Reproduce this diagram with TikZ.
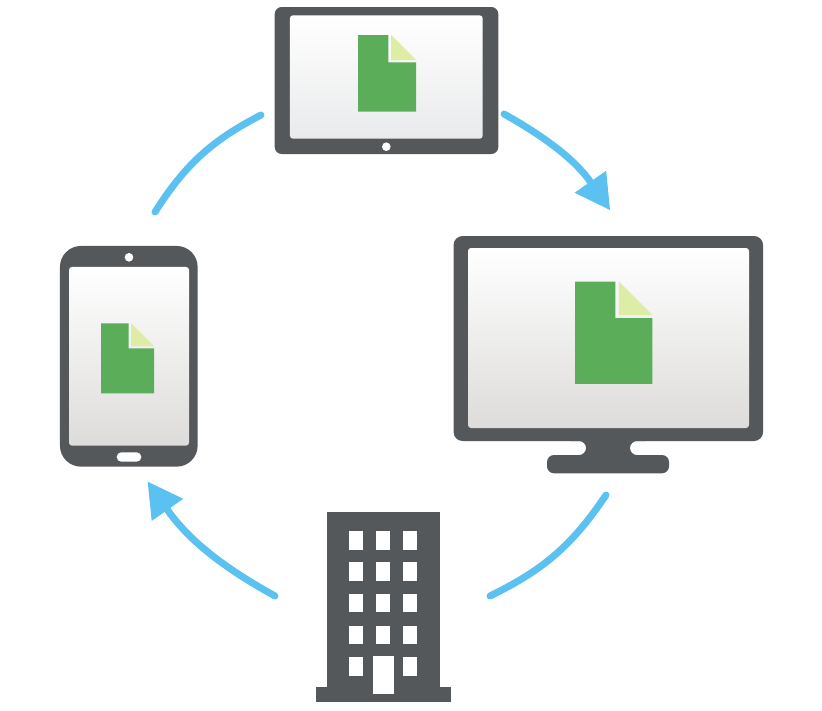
\documentclass[tikz,border=0pt]{standalone}
\usepackage{xcolor}
\usetikzlibrary{arrows.meta}

\definecolor{bezel}{HTML}{55585A}
\definecolor{flow}{HTML}{5AC1F1}
\definecolor{sheet}{HTML}{5BAD5A}
\definecolor{fold}{HTML}{DEEDA5}
\definecolor{screentablet}{HTML}{E9EAEB}
\definecolor{screenphone}{HTML}{DDDCDA}

\tikzset{
  device/.style={fill=bezel, inner sep=0pt, outer sep=0pt},
  screen/.style={inner sep=0pt, outer sep=0pt, rounded corners=3pt, top color=white},
  hole/.style={fill=white, circle, inner sep=0pt, outer sep=0pt, minimum size=8.6pt},
  sync/.style={draw=flow, line width=7pt, line cap=round},
  synctip/.style={sync, -{Triangle[length=34.4pt,width=38.5pt,line width=0pt,sharp]}},
  pane/.style={fill=white, inner sep=0pt, outer sep=0pt, minimum width=13.5pt, minimum height=18.6pt},
}

\begin{document}
\begin{tikzpicture}[x=1pt, y=-1pt]
  \useasboundingbox (0,0) rectangle (822,710);

  % tablet
  \node[device, rounded corners=7pt, minimum width=223.6pt, minimum height=147pt] (tablet) at (386.5,80.5) {};
  \node[screen, bottom color=screentablet, minimum width=192.7pt, minimum height=123.4pt] (tabletscreen) at (386.3,77) {};
  \node[hole] (tablethole) at (386.3,146.7) {};

  % phone
  \node[device, rounded corners=21pt, minimum width=137.7pt, minimum height=220.7pt] (phone) at (128.8,356.3) {};
  \node[screen, bottom color=screenphone, minimum width=120pt, minimum height=178.7pt] (phonescreen) at (129,356.3) {};
  \node[hole] (phonehole) at (129,257.3) {};
  \node[fill=white, rounded corners=4.6pt, inner sep=0pt, minimum width=24.6pt, minimum height=9.4pt] (phonebutton) at (129,457) {};

  % monitor
  \fill[bezel] [sharp corners] (570,435) -- (570,441) [rounded corners=7pt] -- (586,441) -- (586,455) -- (547,455)
       -- (547,473.3) -- (669,473.3) -- (669,455) -- (630,455) -- (630,441) [sharp corners] -- (646,441) -- (646,435) -- cycle;
  \node[device, rounded corners=9pt, minimum width=309.5pt, minimum height=205pt] (monitor) at (608.3,338.5) {};
  \node[screen, bottom color=screenphone, minimum width=281pt, minimum height=180pt] (monitorscreen) at (608.5,338) {};

  % the three sheets
  \foreach \docx/\docy/\docs in {358/35/1, 101/323.3/0.914, 575/281.7/1.333} {
    \begin{scope}[shift={(\docx,\docy)}, scale=\docs]
      \fill[sheet] (0,0) -- (30.3,0) -- (30.3,27.3) -- (58,27.3) -- (58,76.7) -- (0,76.7) -- cycle;
      \fill[fold] (33,0) -- (58,25) -- (33,25) -- cycle;
    \end{scope}
  }

  % building
  \node[device, minimum width=113.3pt, minimum height=176pt] (tower) at (383.3,599.7) {};
  \node[device, minimum width=134.7pt, minimum height=15pt] (towerbase) at (383.3,694.2) {};
  \foreach \winy in {540.3,571.7,603,634.8,666.7}
    \foreach \winx in {356,383.2,410.2}
      \node[pane] (pane\winx\winy) at (\winx,\winy) {};
  \node[device, minimum width=23pt, minimum height=24pt] (doorgap) at (383.2,666.7) {};
  \node[fill=white, inner sep=0pt, minimum width=21pt, minimum height=38pt] (door) at (383.2,675) {};

  % arrows
  \coordinate (tabletout)   at (504,114);
  \coordinate (monitorin)   at (610,210);
  \coordinate (monitorout)  at (606,495);
  \coordinate (towerin)     at (490,596);
  \coordinate (towerout)    at (275,596);
  \coordinate (phonein)     at (147.7,481.7);
  \coordinate (phoneout)    at (155,212);
  \coordinate (tabletin)    at (261,115);

  \draw[synctip] (tabletout)  to [bend left=13] (monitorin);
  \draw[sync]    (monitorout) to [bend left=15] (towerin);
  \draw[synctip] (towerout)   to [bend left=13] (phonein);
  \draw[sync]    (phoneout)   to [bend left=15] (tabletin);
\end{tikzpicture}
\end{document}
